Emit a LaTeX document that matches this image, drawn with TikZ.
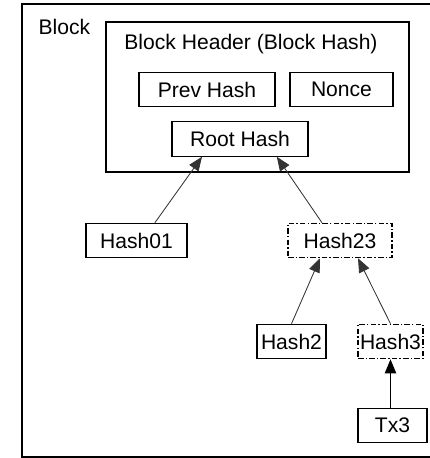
\documentclass[tikz,border=0pt]{standalone}
\usepackage{fontspec}
\setmainfont{Liberation Sans}
\usetikzlibrary{arrows.meta, positioning}

\begin{document}
\begin{tikzpicture}[
    box/.style={draw, line width=0.8pt, minimum height=0.86cm, inner sep=0pt, font=\fontsize{15}{17}\selectfont},
    dbox/.style={box, dash pattern=on 4pt off 1.5pt on 1pt off 1.5pt},
    link/.style={-{Triangle[length=3.5mm, width=2.8mm]}, line width=0.6pt, black!80}
]
    \useasboundingbox (0,0) rectangle (10.75,11.45);

    % Block and its header
    \draw[line width=0.8pt] (0.55,0.025) rectangle (11.5,11.35);
    \node[font=\fontsize{15}{17}\selectfont, anchor=base] (blk) at (1.61,10.575) {Block};
    \draw[line width=0.8pt] (2.65,7.15) rectangle (10.225,10.9);
    \node[font=\fontsize{15}{17}\selectfont, anchor=base] (hdr) at (6.275,10.2) {Block Header (Block Hash)};

    % Header fields
    \node[box, minimum width=3.4cm] (prev) at (5.175,9.2125) {Prev Hash};
    \node[box, minimum width=2.575cm] (nonce) at (8.5375,9.2125) {Nonce};
    \node[box, minimum width=3.4cm] (root) at (6.0,7.975) {Root Hash};

    % Merkle branch
    \node[box, minimum width=2.525cm] (h01) at (3.4125,5.4375) {Hash01};
    \node[dbox, minimum width=2.6cm] (h23) at (8.5,5.4375) {Hash23};
    \node[box, minimum width=1.725cm] (h2) at (7.2875,2.9125) {Hash2};
    \node[dbox, minimum width=1.625cm] (h3) at (9.7625,2.9125) {Hash3};
    \node[box, minimum width=1.725cm] (tx3) at (9.8125,0.8125) {Tx3};

    % Arrows
    \draw[link] ([xshift=0.46cm]h01.north) -- ([xshift=-0.95cm]root.south);
    \draw[link] ([xshift=-0.45cm]h23.north) -- ([xshift=0.92cm]root.south);
    \draw[link] (h2.north) -- ([xshift=-0.5cm]h23.south);
    \draw[link] (h3.north) -- ([xshift=0.45cm]h23.south);
    \draw[link, line width=1.1pt, black] (tx3.north -| h3.south) -- (h3.south);

\end{tikzpicture}
\end{document}
